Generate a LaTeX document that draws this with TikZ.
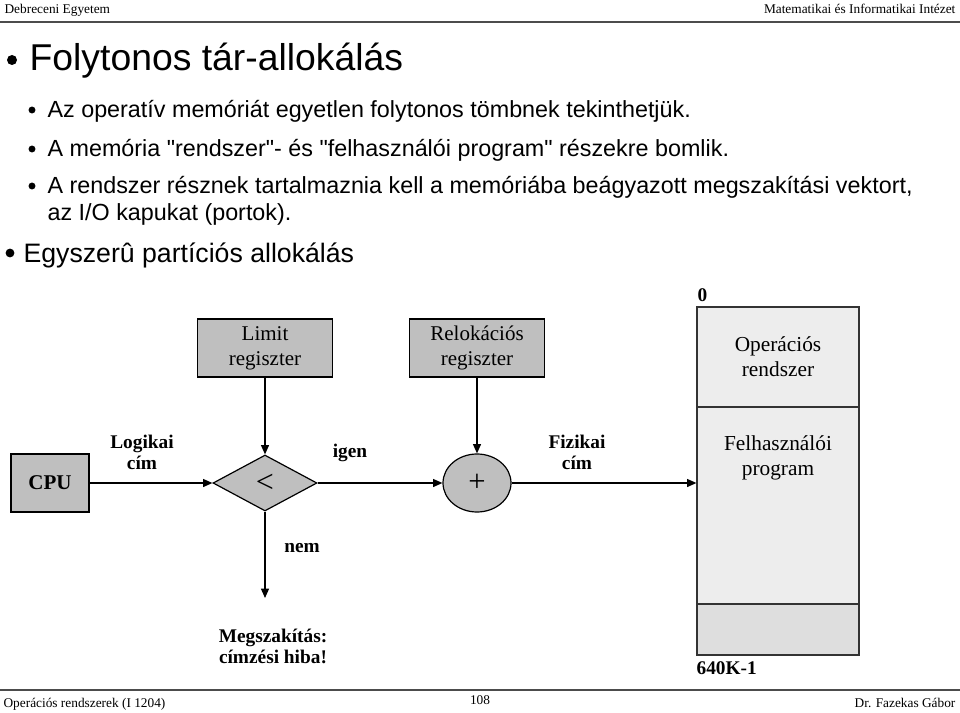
\documentclass[tikz,border=0pt]{standalone}
\usepackage{fontspec}
\setmainfont{Liberation Serif}
\newfontfamily\slidefont{Liberation Sans}
\usetikzlibrary{positioning}
\usetikzlibrary{arrows.meta,shapes}
\tikzstyle{headtext}=[inner sep=0pt,font=\fontsize{10}{12}\selectfont]
\tikzstyle{rule}=[draw=black!70,line width=1.5pt]
\tikzstyle{titletext}=[inner sep=0pt,font=\slidefont\fontsize{28}{32}\selectfont]
\tikzstyle{bullettext}=[inner sep=0pt,font=\slidefont\fontsize{17.5}{20}\selectfont]
\tikzstyle{parttext}=[inner sep=0pt,font=\slidefont\fontsize{20}{24}\selectfont]
\tikzstyle{regbox}=[rectangle,draw,fill=black!25,minimum width=101.25pt,minimum height=43.5pt,inner sep=0pt,align=center,font=\fontsize{15.75}{18.75}\selectfont]
\tikzstyle{decision}=[diamond,draw,fill=black!25,minimum width=78pt,minimum height=42pt,inner sep=0pt,font=\fontsize{24}{26}\selectfont]
\tikzstyle{adder}=[ellipse,draw,fill=black!25,minimum width=51pt,minimum height=43.5pt,inner sep=0pt,font=\fontsize{23}{25}\selectfont]
\tikzstyle{memcell}=[rectangle,draw=black!80,fill=black!7,minimum width=121.5pt,inner sep=0pt,align=center,font=\fontsize{16}{18.75}\selectfont]
\tikzstyle{celltext}=[align=center,inner sep=0pt,font=\fontsize{16}{18.75}\selectfont]
\tikzstyle{edge} = [draw,->]
\tikzstyle{weight} = [align=center,inner sep=0pt,font=\bfseries\fontsize{14.5}{15.75}\selectfont]

\begin{document}
\begin{tikzpicture}[x=0.75pt, y=-0.75pt, >={Triangle[length=7pt,width=6pt]}, line width=0.9pt]

  \useasboundingbox (0,0) rectangle (960,713);

  % fejlec, lablec
  \node[headtext, anchor=base west] (hdl) at (4,14) {Debreceni Egyetem};
  \node[headtext, anchor=base east] (hdr) at (956,14) {Matematikai és Informatikai Intézet};
  \draw[rule] (0,22) -- (960,22);
  \draw[rule] (0,690) -- (960,690);
  \node[headtext, anchor=base west] (ftl) at (3,707) {Operációs rendszerek (I 1204)};
  \node[headtext, anchor=base] (ftc) at (480,704) {108};
  \node[headtext, anchor=base east] (ftr) at (956,707) {Dr. Fazekas Gábor};

  % szoveg
  \fill (12,60) circle (3.75pt);
  \node[titletext, anchor=base west] (title) at (29,71) {Folytonos tár-allokálás};

  \foreach \y/\name/\txt in {118/b1/{Az operatív memóriát egyetlen folytonos tömbnek tekinthetjük.},
                             157/b2/{A memória "rendszer"- és "felhasználói program" részekre bomlik.},
                             194/b3/{A rendszer résznek tartalmaznia kell a memóriába beágyazott megszakítási vektort,}}
     {
       \fill (32,\y-8) circle (2.6pt);
       \node[bullettext, anchor=base west] (\name) at (47,\y) {\txt};
     }
  \node[bullettext, anchor=base west] (b3b) at (47,220) {az I/O kapukat (portok).};

  \fill (10,253) circle (3.3pt);
  \node[parttext, anchor=base west] (part) at (23,262) {Egyszerû partíciós allokálás};

  % abra
  \foreach \x/\y/\name/\label in {265/348/limit/{Limit\\regiszter}, 477/348/reloc/{Relokációs\\regiszter}}
          \node[regbox] (\name) at (\x,\y) {\label};

  \node[regbox, minimum width=58.5pt, font=\bfseries\fontsize{15.75}{18}\selectfont] (cpu) at (50,483) {CPU};
  \node[decision] (cmp) at (265,483) {<};
  \node[adder] (add) at (477,483) {+};

  \node[memcell, minimum height=75pt] (os) at (778,357) {Operációs\\rendszer};
  \node[memcell, minimum height=147.75pt] (user) at (778,505.5) {};
  \node[memcell, minimum height=38.25pt, fill=black!13] (rest) at (778,629.5) {};
  \node[celltext] (usertxt) at (778,457.5) {Felhasználói\\program};

  \coordinate (trap) at (265,598);

  \draw[edge] (cpu) -- (cmp);
  \draw[edge] (limit) -- (cmp);
  \draw[edge] (reloc) -- (add);
  \draw[edge] (cmp) -- (add);
  \draw[edge] (add) -- (add -| user.west);
  \draw[edge] (cmp) -- (trap);

  \foreach \x/\y/\name/\label in {142/452/logaddr/{Logikai\\cím}, 350/453/yes/{igen}, 577/452/physaddr/{Fizikai\\cím},
                                  302/548/no/{nem}, 273/646/trapmsg/{Megszakítás:\\címzési hiba!}}
          \node[weight] (\name) at (\x,\y) {\label};

  \node[weight, anchor=west] (addr0) at (697,295) {0};
  \node[weight, anchor=west] (addrmax) at (696,668) {640K-1};

\end{tikzpicture}
\end{document}
